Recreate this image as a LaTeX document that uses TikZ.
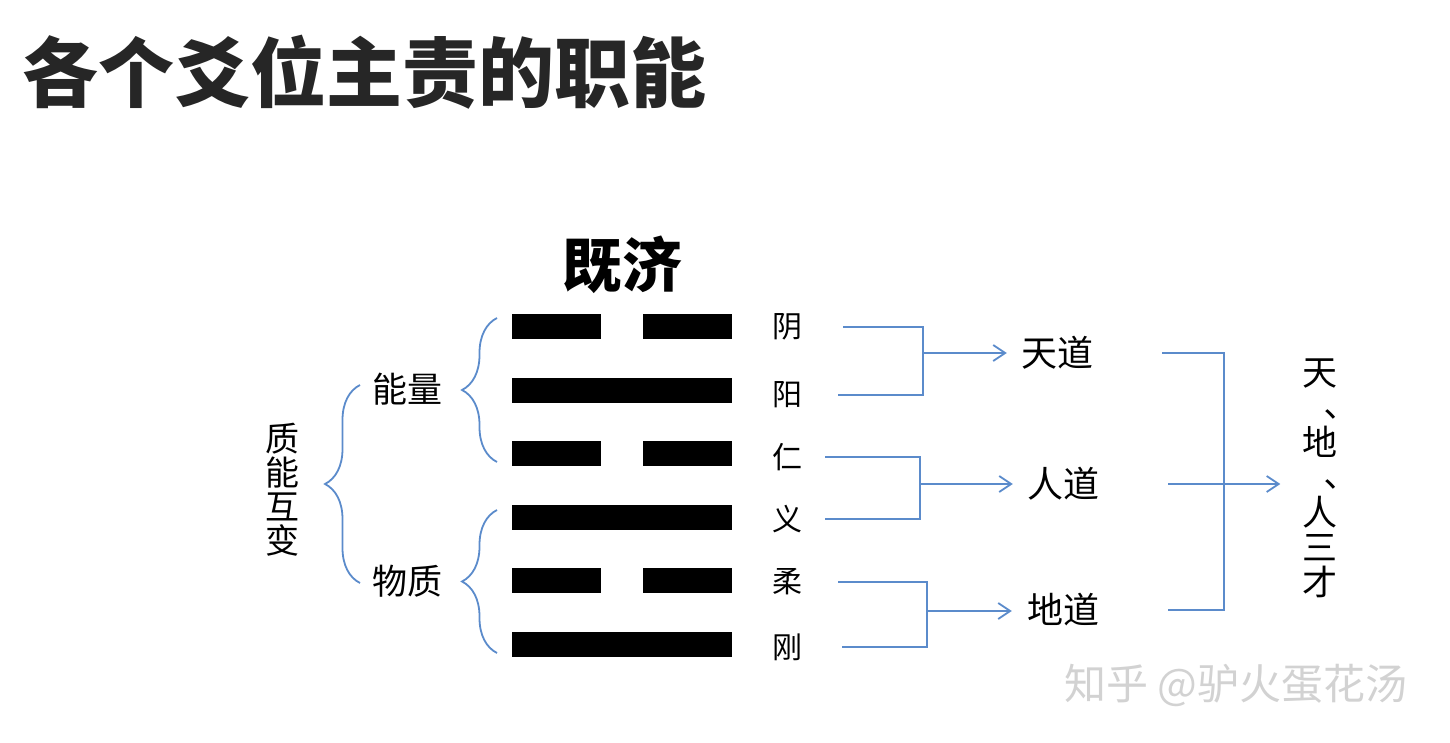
\documentclass[tikz,border=0pt]{standalone}
\usepackage{fontspec}
\setmainfont{Noto Sans CJK SC}
\usetikzlibrary{arrows.meta,positioning,decorations.pathreplacing}
\definecolor{LinkBlue}{HTML}{5B8BCB}
\definecolor{TitleGray}{HTML}{262626}

\begin{document}
\begin{tikzpicture}[x=1pt,y=-1pt,
    link/.style={LinkBlue,line width=1.8pt},
    tipped/.style={-{Straight Barb[length=12pt,width=16pt]}},
    curly/.style={decorate,decoration={brace,amplitude=35pt}},
    yao/.style={inner sep=0pt,font=\fontsize{30}{30}\selectfont},
    dao/.style={inner sep=0pt,font=\fontsize{36}{36}\selectfont}]
  \useasboundingbox (0,0) rectangle (1450,743);

  \node[anchor=west,inner sep=0pt,text=TitleGray,font=\bfseries\fontsize{76}{76}\selectfont] (title) at (22,72) {各个爻位主责的职能};

  % hexagram
  \node[inner sep=0pt,font=\bfseries\fontsize{60}{60}\selectfont] (hexname) at (622,265) {既济};
  \foreach \y/\broken in {326.5/1,390.5/0,453.5/1,517/0,580.5/1,644/0}
  {
    \ifnum\broken=1
      \fill (512,\y-12.5) rectangle (601,\y+12.5);
      \fill (643,\y-12.5) rectangle (732,\y+12.5);
    \else
      \fill (512,\y-12.5) rectangle (732,\y+12.5);
    \fi
  }
  \foreach \name/\txt/\y in {yin/阴/327,yang/阳/395,ren/仁/457,yi/义/519,rou/柔/582,gang/刚/647}
    \node[yao] (\name) at (787,\y) {\txt};

  % left side
  \node[inner sep=0pt,font=\fontsize{35}{35}\selectfont] (nengliang) at (407,389) {能量};
  \node[inner sep=0pt,font=\fontsize{35}{35}\selectfont] (wuzhi) at (407,581) {物质};
  \node[align=center,inner sep=0pt,font=\fontsize{34}{34}\selectfont] (zhineng) at (282,490) {质\\能\\互\\变};
  \draw[link,curly] (360,583) -- (360,385);
  \draw[link,curly] (497,462) -- (497,318);
  \draw[link,curly] (497,653) -- (497,510);

  % right side
  \node[dao] (tiandao) at (1057,353) {天道};
  \node[dao] (rendao) at (1063,484) {人道};
  \node[dao] (didao) at (1063,610) {地道};
  \node[align=center,inner sep=0pt,font=\fontsize{35}{35}\selectfont] (sancai) at (1320,478)
    {天\\\smash{\raisebox{-18pt}{︑}}\\地\\\smash{\raisebox{-18pt}{︑}}\\人\\三\\才};

  \coordinate (fkA) at (923,353);
  \coordinate (fkB) at (920,484);
  \coordinate (fkC) at (927,611);
  \coordinate (fkD) at (1224,484);
  \draw[link] ([xshift=41pt]yin.east) -| (fkA) |- ([xshift=36pt]yang.east);
  \draw[link] ([xshift=23pt]ren.east) -| (fkB) |- ([xshift=23pt]yi.east);
  \draw[link] ([xshift=36pt]rou.east) -| (fkC) |- ([xshift=40pt]gang.east);
  \draw[link,tipped,shorten >=14pt] (fkA) -- (fkA -| tiandao.west);
  \draw[link,tipped,shorten >=14pt] (fkB) -- (fkB -| rendao.west);
  \draw[link,tipped,shorten >=15pt] (fkC) -- (fkC -| didao.west);
  \draw[link] ([xshift=69pt]tiandao.east) -| (fkD) |- ([xshift=69pt]didao.east);
  \draw[link,tipped,shorten >=22pt] ([xshift=69pt]rendao.east) -- (rendao -| sancai.west);

  \node[inner sep=0pt,text=gray!35,font=\fontsize{42}{42}\selectfont] (mark) at (1236,685) {知乎 @驴火蛋花汤};
\end{tikzpicture}
\end{document}
